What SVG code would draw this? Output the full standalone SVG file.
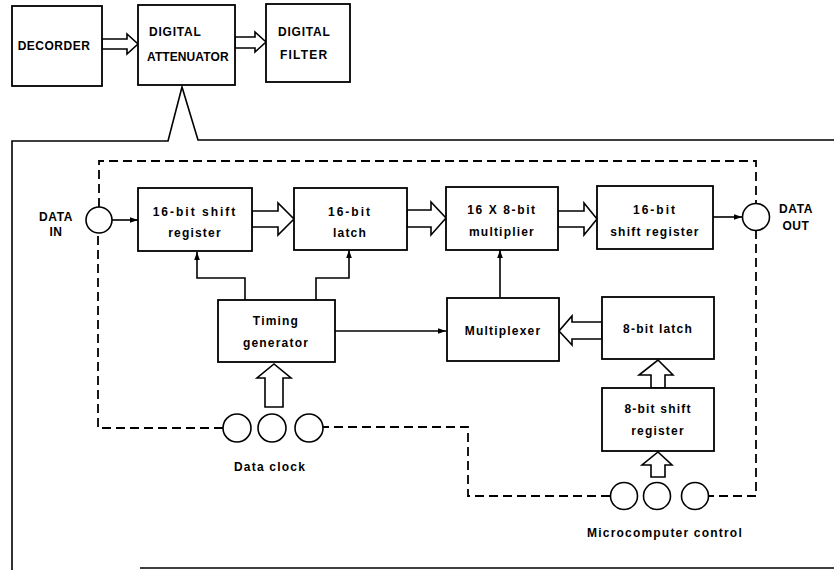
<svg xmlns="http://www.w3.org/2000/svg" width="834" height="571" viewBox="0 0 834 571">
<style>
.box{fill:#fff;stroke:#000;stroke-width:1.8}
.ln{fill:none;stroke:#000;stroke-width:1.6}
.dash{fill:none;stroke:#000;stroke-width:1.8;stroke-dasharray:9 5}
.hol{fill:#fff;stroke:#000;stroke-width:1.6;stroke-linejoin:miter}
.circ{fill:#fff;stroke:#000;stroke-width:1.6}
text{font-family:"Liberation Sans",Arial,sans-serif;font-weight:bold;font-size:12px;fill:#000}
.c{text-anchor:middle;letter-spacing:1.2px}
.cap{letter-spacing:0.5px}
</style>
<defs>
<marker id="ah" viewBox="0 0 10 10" refX="10" refY="5" markerWidth="8" markerHeight="8" markerUnits="userSpaceOnUse" orient="auto">
<path d="M0 1.5 L10 5 L0 8.5 Z" fill="#000"/>
</marker>
</defs>
<rect width="834" height="571" fill="#fff"/>

<g id="frame">
<path class="ln" d="M12 570 V141 H168 L182 87 L198 140 H834"/>
<path class="ln" d="M140 568 H834"/>
</g>

<g id="connectors">
<path class="dash" d="M99 207 V161 H756 V203"/>
<path class="dash" d="M756 230 V496 H709"/>
<path class="dash" d="M610 496 H468 V427 H323"/>
<path class="dash" d="M223 428 H98 V233"/>
<polygon class="hol" points="102,39 127,39 127,34 138,44 127,54 127,49 102,49"/>
<polygon class="hol" points="235,37 255,37 255,32 266,42 255,52 255,48 235,48"/>
<polygon class="hol" points="252,211 278,211 278,203 294,219 278,235 278,227 252,227"/>
<polygon class="hol" points="407,210 431,210 431,202 446,218 431,235 431,227 407,227"/>
<polygon class="hol" points="558,211 584,211 584,203 597,219 584,235 584,227 558,227"/>
<polygon class="hol" points="602,322 572,322 572,316 559,331 572,345 572,339 602,339"/>
<polygon class="hol" points="265,407 265,378 257,378 274,364 291,378 283,378 283,407"/>
<polygon class="hol" points="651,388 651,375 639,375 658,360 673,375 665,375 665,388"/>
<polygon class="hol" points="651,477 651,465 642,465 658,452 672,465 665,465 665,477"/>
<path class="ln" d="M112 220 H138" marker-end="url(#ah)"/>
<path class="ln" d="M245 300 V278 H197 V252" marker-end="url(#ah)"/>
<path class="ln" d="M316 300 V278 H349 V250" marker-end="url(#ah)"/>
<path class="ln" d="M335 331 H446" marker-end="url(#ah)"/>
<path class="ln" d="M500 297 V250" marker-end="url(#ah)"/>
<path class="ln" d="M713 217 H742" marker-end="url(#ah)"/>
</g>

<g id="decorder">
<rect class="box" x="12" y="6" width="90" height="80"/>
<text class="c cap" x="54" y="50" style="letter-spacing:0.5px">DECORDER</text>
</g>
<g id="attenuator">
<rect class="box" x="138" y="5" width="97" height="80"/>
<text x="149" y="36" style="letter-spacing:0.8px">DIGITAL</text>
<text x="147" y="61" style="letter-spacing:0.1px">ATTENUATOR</text>
</g>
<g id="filter">
<rect class="box" x="266" y="4" width="84" height="78"/>
<text x="278" y="36" style="letter-spacing:0.8px">DIGITAL</text>
<text x="280" y="59" style="letter-spacing:1.2px">FILTER</text>
</g>

<g id="data-in">
<circle class="circ" cx="99" cy="220" r="13"/>
<text class="c" x="56" y="221" style="letter-spacing:0.6px">DATA</text>
<text class="c" x="56" y="236" style="letter-spacing:0.6px">IN</text>
</g>
<g id="data-out">
<circle class="circ" cx="756" cy="217" r="13.5"/>
<text class="c" x="796" y="213" style="letter-spacing:0.6px">DATA</text>
<text class="c" x="796" y="230" style="letter-spacing:0.6px">OUT</text>
</g>

<g id="shift16">
<rect class="box" x="138" y="188" width="114" height="63"/>
<text class="c" x="195" y="216" style="letter-spacing:2px">16-bit shift</text>
<text class="c" x="195" y="237">register</text>
</g>
<g id="latch16">
<rect class="box" x="294" y="188" width="113" height="62"/>
<text class="c" x="350" y="216" style="letter-spacing:2px">16-bit</text>
<text class="c" x="350" y="237">latch</text>
</g>
<g id="multiplier">
<rect class="box" x="446" y="187" width="112" height="63"/>
<text class="c" x="502" y="214" style="letter-spacing:1.6px">16 X 8-bit</text>
<text class="c" x="502" y="236">multiplier</text>
</g>
<g id="shift16out">
<rect class="box" x="597" y="186" width="116" height="63"/>
<text class="c" x="655" y="214" style="letter-spacing:2px">16-bit</text>
<text class="c" x="655" y="236">shift register</text>
</g>
<g id="timing">
<rect class="box" x="218" y="300" width="117" height="62"/>
<text class="c" x="276" y="325">Timing</text>
<text class="c" x="276" y="347">generator</text>
</g>
<g id="multiplexer">
<rect class="box" x="447" y="298" width="112" height="63"/>
<text class="c" x="503" y="335">Multiplexer</text>
</g>
<g id="latch8">
<rect class="box" x="602" y="297" width="112" height="62"/>
<text class="c" x="658" y="333">8-bit latch</text>
</g>
<g id="shift8">
<rect class="box" x="602" y="388" width="112" height="63"/>
<text class="c" x="658" y="413">8-bit shift</text>
<text class="c" x="658" y="435">register</text>
</g>
<g id="data-clock">
<circle class="circ" cx="237" cy="428" r="14"/>
<circle class="circ" cx="272" cy="428" r="14"/>
<circle class="circ" cx="309" cy="428" r="14"/>
<text class="c" x="270" y="471">Data clock</text>
</g>
<g id="micro-control">
<circle class="circ" cx="624" cy="496" r="13.5"/>
<circle class="circ" cx="657" cy="496" r="13.5"/>
<circle class="circ" cx="695" cy="496" r="13.5"/>
<text class="c" x="665" y="537">Microcomputer control</text>
</g>
</svg>
